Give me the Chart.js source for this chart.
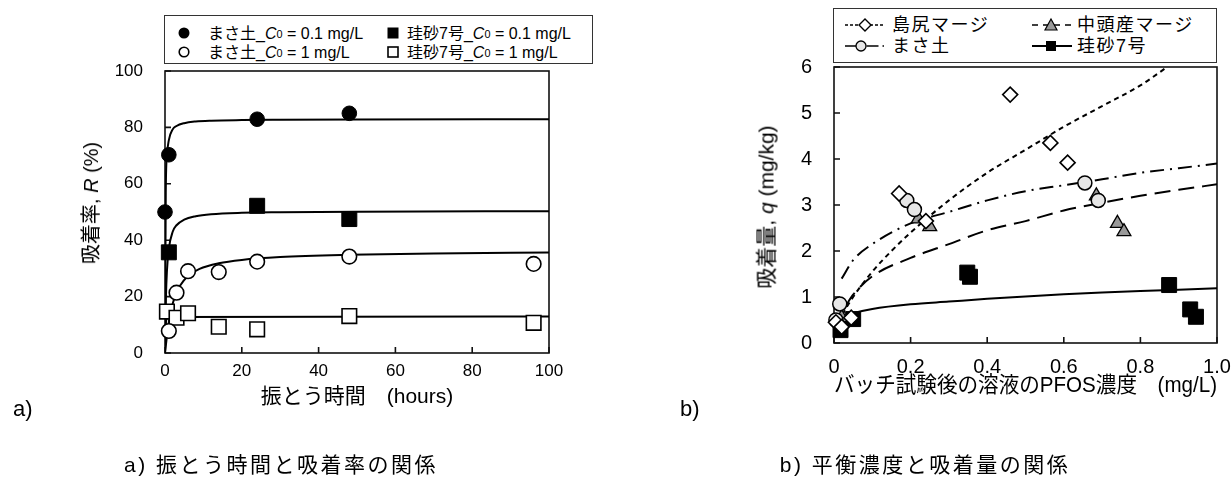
<!DOCTYPE html>
<html><head><meta charset="utf-8">
<script src="https://cdn.jsdelivr.net/npm/chart.js@4.4.1/dist/chart.umd.min.js"></script>
<style>
html,body{margin:0;padding:0;background:#fff;overflow:hidden;width:1231px;height:497px;}
body{position:relative;font-family:'Liberation Sans','Noto Sans CJK JP',sans-serif;color:#000;}
canvas{position:absolute;top:0;}
.abs{position:absolute;white-space:nowrap;line-height:1;}
.leg{position:absolute;border:1.5px solid #333;box-sizing:border-box;background:#fff;}
.li{position:absolute;display:flex;align-items:center;white-space:nowrap;line-height:1;}
.li svg{display:block;}
sub{font-size:0.68em;vertical-align:-0.25em;line-height:0;}
.ytitle{position:absolute;white-space:nowrap;line-height:1;transform:translate(-50%,-50%) rotate(-90deg);}
.cap{position:absolute;white-space:nowrap;line-height:1;transform:translate(-50%,-50%);font-size:21px;letter-spacing:2.5px;}
</style></head>
<body>
<canvas id="ca" width="615" height="497" style="left:0;width:615px;height:497px"></canvas>
<canvas id="cb" width="640" height="497" style="left:615px;width:640px;height:497px"></canvas>

<div class="leg" style="left:164px;top:15px;width:429px;height:49px;font-size:16px;">
  <div class="li" style="left:12px;top:10px"><svg width="14" height="14"><circle cx="7" cy="7" r="5.5" fill="#000"/></svg></div>
  <div class="li" style="left:43px;top:10px">まさ土_<i>C</i><sub>0</sub>&nbsp;= 0.1 mg/L</div>
  <div class="li" style="left:221px;top:10px"><svg width="14" height="14"><rect x="1.5" y="1.5" width="11" height="11" fill="#000"/></svg></div>
  <div class="li" style="left:242px;top:10px">珪砂7号_ <i>C</i><sub>0</sub>&nbsp;= 0.1 mg/L</div>
  <div class="li" style="left:12px;top:29px"><svg width="14" height="14"><circle cx="7" cy="7" r="4.8" fill="#fff" stroke="#000" stroke-width="1.6"/></svg></div>
  <div class="li" style="left:43px;top:29px">まさ土_<i>C</i><sub>0</sub>&nbsp;= 1 mg/L</div>
  <div class="li" style="left:221px;top:29px"><svg width="14" height="14"><rect x="2" y="2" width="10" height="10" fill="#fff" stroke="#000" stroke-width="1.6"/></svg></div>
  <div class="li" style="left:242px;top:29px">珪砂7号_ <i>C</i><sub>0</sub>&nbsp;= 1 mg/L</div>
</div>

<div class="leg" style="left:833px;top:8px;width:384px;height:55px;font-size:18px;letter-spacing:1.5px;">
  <div class="li" style="left:10px;top:8px"><svg width="42" height="16"><line x1="1" y1="8" x2="41" y2="8" stroke="#000" stroke-width="1.5" stroke-dasharray="3,2"/><polygon points="21,2 27,8 21,14 15,8" fill="#fff" stroke="#000" stroke-width="1.4"/></svg></div>
  <div class="li" style="left:58px;top:7px">島尻マージ</div>
  <div class="li" style="left:197px;top:8px"><svg width="42" height="16"><line x1="1" y1="8" x2="41" y2="8" stroke="#000" stroke-width="1.5" stroke-dasharray="6,5"/><polygon points="20,2 26,13 14,13" fill="#999" stroke="#000" stroke-width="1.2"/></svg></div>
  <div class="li" style="left:243px;top:7px">中頭産マージ</div>
  <div class="li" style="left:10px;top:29px"><svg width="42" height="16"><line x1="1" y1="8" x2="41" y2="8" stroke="#000" stroke-width="1.5" stroke-dasharray="12,4,1.5,4"/><circle cx="17" cy="8" r="5" fill="#e6e6e6" stroke="#000" stroke-width="1.3"/></svg></div>
  <div class="li" style="left:58px;top:28px">まさ土</div>
  <div class="li" style="left:197px;top:29px"><svg width="42" height="16"><line x1="1" y1="8" x2="41" y2="8" stroke="#000" stroke-width="1.8"/><rect x="15" y="3" width="10" height="10" fill="#000"/></svg></div>
  <div class="li" style="left:243px;top:28px">珪砂7号</div>
</div>

<div class="ytitle" style="left:91px;top:203px;font-size:20px;">吸着率, <i>R</i> (%)</div>
<div class="ytitle" style="left:766px;top:207px;font-size:21px;">吸着量, <i>q</i> (mg/kg)</div>

<div class="abs" style="left:13px;top:398px;font-size:22px;">a)</div>
<div class="abs" style="left:680px;top:398px;font-size:22px;">b)</div>
<div class="cap" style="left:281px;top:464px;">a) 振とう時間と吸着率の関係</div>
<div class="cap" style="left:925px;top:464px;">b) 平衡濃度と吸着量の関係</div>

<script>
// ---------- Chart a: shaking time vs adsorption rate ----------
const timeMasaLow = [0, 1, 24, 48];
const rateMasaLow = [50, 70.3, 82.9, 85];
const timeKeishaLow = [1, 24, 48];
const rateKeishaLow = [35.7, 52.2, 47.5];
const timeMasaHigh = [1, 3, 6, 14, 24, 48, 96];
const rateMasaHigh = [7.8, 21.4, 29, 28.7, 32.4, 34.2, 31.6];
const timeKeishaHigh = [0.5, 3, 6, 14, 24, 48, 96];
const rateKeishaHigh = [14.7, 12.5, 14.1, 9.3, 8.4, 13.1, 10.7];

// fitted curves
const fitTimeMasaLow = [0, 0.2, 0.5, 1, 2, 3, 5, 8, 12, 20, 30, 50, 100];
const fitRateMasaLow = [0, 57, 70, 75.5, 79.3, 80.5, 81.5, 82.1, 82.4, 82.6, 82.7, 82.8, 82.9];
const fitTimeKeishaLow = [0, 0.25, 0.5, 1, 2, 3, 5, 8, 12, 20, 30, 50, 100];
const fitRateKeishaLow = [0, 20, 29, 37, 43, 45.3, 47.3, 48.5, 49.2, 49.7, 49.9, 50.1, 50.3];
const fitTimeMasaHigh = [0, 0.5, 1, 2, 3, 4, 6, 9, 14, 20, 30, 48, 70, 100];
const fitRateMasaHigh = [0, 6, 11, 17.5, 21.4, 24, 27.3, 29.8, 31.8, 33, 34, 34.8, 35.3, 35.6];
const fitTimeKeishaHigh = [0, 0.2, 0.5, 1, 3, 100];
const fitRateKeishaHigh = [0, 10, 12.2, 12.6, 12.8, 12.9];

const timeTicks = [0, 20, 40, 60, 80, 100];
const rateTicks = [0, 20, 40, 60, 80, 100];

// ---------- Chart b: equilibrium concentration vs adsorbed amount ----------
const concShimajiri = [0.005, 0.02, 0.045, 0.17, 0.24, 0.46, 0.565, 0.61];
const qShimajiri = [0.45, 0.35, 0.55, 3.25, 2.65, 5.4, 4.35, 3.92];
const concNakagami = [0.02, 0.22, 0.25, 0.685, 0.74, 0.757];
const qNakagami = [0.55, 2.7, 2.53, 3.2, 2.6, 2.42];
const concMasa = [0.005, 0.015, 0.19, 0.21, 0.655, 0.69];
const qMasa = [0.5, 0.85, 3.1, 2.9, 3.48, 3.1];
const concKeisha = [0.017, 0.05, 0.348, 0.355, 0.875, 0.93, 0.945];
const qKeisha = [0.28, 0.52, 1.53, 1.44, 1.26, 0.73, 0.57];

const fitConcShimajiri = [0.005, 0.02, 0.05, 0.1, 0.15, 0.2, 0.3, 0.4, 0.5, 0.6, 0.7, 0.8, 0.87];
const fitQShimajiri = [0.25, 0.57, 1.0, 1.55, 2.0, 2.4, 3.1, 3.7, 4.2, 4.7, 5.15, 5.6, 6.0];
const fitConcNakagami = [0.03, 0.05, 0.1, 0.2, 0.3, 0.4, 0.5, 0.6, 0.7, 0.8, 0.9, 1.0];
const fitQNakagami = [0.8, 1.05, 1.45, 1.85, 2.15, 2.45, 2.65, 2.88, 3.05, 3.2, 3.33, 3.45];
const fitConcMasa = [0.02, 0.05, 0.1, 0.2, 0.3, 0.4, 0.5, 0.6, 0.7, 0.8, 0.9, 1.0];
const fitQMasa = [1.4, 1.8, 2.15, 2.6, 2.85, 3.1, 3.3, 3.43, 3.56, 3.7, 3.8, 3.9];
const fitConcKeisha = [0.015, 0.05, 0.1, 0.2, 0.3, 0.4, 0.5, 0.6, 0.7, 0.8, 0.9, 1.0];
const fitQKeisha = [0.55, 0.65, 0.74, 0.84, 0.9, 0.96, 1.01, 1.06, 1.1, 1.13, 1.16, 1.19];

const concTicks = [0, 0.2, 0.4, 0.6, 0.8, 1.0];
const qTicks = [0, 1, 2, 3, 4, 5, 6];

const FONT = "'Liberation Sans','Noto Sans CJK JP',sans-serif";
const pts = (xs, ys) => xs.map((x, i) => ({x, y: ys[i]}));

const frameTicks = {
  id: 'frameTicks',
  beforeDatasetsDraw(chart) {
    const {ctx, chartArea: {left, right, top, bottom}, scales: {x, y}} = chart;
    ctx.save();
    ctx.strokeStyle = '#111';
    ctx.lineWidth = 1.6;
    ctx.strokeRect(left, top, right - left, bottom - top);
    ctx.beginPath();
    x.ticks.forEach(t => { const px = x.getPixelForValue(t.value); ctx.moveTo(px, bottom); ctx.lineTo(px, bottom - 6); });
    y.ticks.forEach(t => { const py = y.getPixelForValue(t.value); ctx.moveTo(left, py); ctx.lineTo(left + 6, py); });
    ctx.stroke();
    ctx.restore();
  }
};

function pointSet(label, xs, ys, style, radius, fill, border) {
  return { label, data: pts(xs, ys), showLine: false, clip: false, pointStyle: style, pointRadius: radius,
    pointHoverRadius: radius, pointBackgroundColor: fill, pointBorderColor: '#000', pointBorderWidth: border };
}
function curveSet(label, xs, ys, dash, width) {
  return { label, data: pts(xs, ys), showLine: true, pointRadius: 0, borderColor: '#000',
    borderWidth: width, borderDash: dash, cubicInterpolationMode: 'monotone', fill: false };
}

function axes(opt) {
  return {
    x: { type: 'linear', min: opt.xmin, max: opt.xmax,
      afterBuildTicks: s => { s.ticks = opt.xticks.map(v => ({value: v})); },
      afterFit: s => { s.height = opt.xh; },
      grid: {display: false, drawTicks: false}, border: {display: false},
      ticks: {padding: opt.xpad, color: '#000', font: {family: FONT, size: opt.tickSize}, callback: opt.xfmt, maxRotation: 0},
      title: {display: true, text: opt.xtitle, color: '#000', font: {family: FONT, size: opt.titleSize}, padding: {top: 0, bottom: 0}} },
    y: { type: 'linear', min: opt.ymin, max: opt.ymax,
      afterBuildTicks: s => { s.ticks = opt.yticks.map(v => ({value: v})); },
      afterFit: s => { s.width = opt.yw; },
      grid: {display: false, drawTicks: false}, border: {display: false},
      ticks: {padding: opt.ypad, color: '#000', font: {family: FONT, size: opt.tickSize}} }
  };
}

new Chart(document.getElementById('ca'), {
  type: 'scatter',
  data: { datasets: [
    pointSet('まさ土_C0 = 0.1 mg/L', timeMasaLow, rateMasaLow, 'circle', 7.3, '#000', 1),
    pointSet('珪砂7号_ C0 = 0.1 mg/L', timeKeishaLow, rateKeishaLow, 'rect', 10.6, '#000', 1),
    pointSet('まさ土_C0 = 1 mg/L', timeMasaHigh, rateMasaHigh, 'circle', 7.3, '#fff', 1.6),
    pointSet('珪砂7号_ C0 = 1 mg/L', timeKeishaHigh, rateKeishaHigh, 'rect', 10.3, '#fff', 1.6),
    curveSet('fit1', fitTimeMasaLow, fitRateMasaLow, [], 2),
    curveSet('fit2', fitTimeKeishaLow, fitRateKeishaLow, [], 2),
    curveSet('fit3', fitTimeMasaHigh, fitRateMasaHigh, [], 2),
    curveSet('fit4', fitTimeKeishaHigh, fitRateKeishaHigh, [], 2)
  ]},
  options: {
    responsive: false, animation: false, events: [],
    layout: {padding: {left: 0, top: 71, right: 66, bottom: 497 - 353 - 57}},
    plugins: {legend: {display: false}, tooltip: {enabled: false}},
    scales: axes({xmin: 0, xmax: 100, ymin: 0, ymax: 100, xticks: timeTicks, yticks: rateTicks,
      xh: 57, yw: 165, xpad: 8, ypad: 22, tickSize: 17, titleSize: 21,
      xtitle: '振とう時間　(hours)', xfmt: v => String(v)})
  },
  plugins: [frameTicks]
});

new Chart(document.getElementById('cb'), {
  type: 'scatter',
  data: { datasets: [
    pointSet('島尻マージ', concShimajiri, qShimajiri, 'rectRot', 7.5, '#fff', 1.6),
    pointSet('まさ土', concMasa, qMasa, 'circle', 7, '#e6e6e6', 1.5),
    pointSet('中頭産マージ', concNakagami, qNakagami, 'triangle', 8, '#999', 1.3),
    pointSet('珪砂7号', concKeisha, qKeisha, 'rect', 10.6, '#000', 1),
    curveSet('島尻マージ fit', fitConcShimajiri, fitQShimajiri, [5, 4], 2),
    curveSet('まさ土 fit', fitConcMasa, fitQMasa, [14, 6, 2, 6], 2),
    curveSet('中頭産マージ fit', fitConcNakagami, fitQNakagami, [16, 8], 2),
    curveSet('珪砂7号 fit', fitConcKeisha, fitQKeisha, [], 2)
  ]},
  options: {
    responsive: false, animation: false, events: [],
    layout: {padding: {left: 0, top: 67, right: 615 + 640 - 1217, bottom: 497 - 343 - 56}},
    plugins: {legend: {display: false}, tooltip: {enabled: false}},
    scales: axes({xmin: 0, xmax: 1, ymin: 0, ymax: 6, xticks: concTicks, yticks: qTicks,
      xh: 56, yw: 834 - 615, xpad: 12, ypad: 22, tickSize: 20, titleSize: 22,
      xtitle: 'バッチ試験後の溶液のPFOS濃度　(mg/L)', xfmt: v => v === 0 ? '0' : v.toFixed(1)})
  },
  plugins: [frameTicks]
});
</script>
</body></html>
